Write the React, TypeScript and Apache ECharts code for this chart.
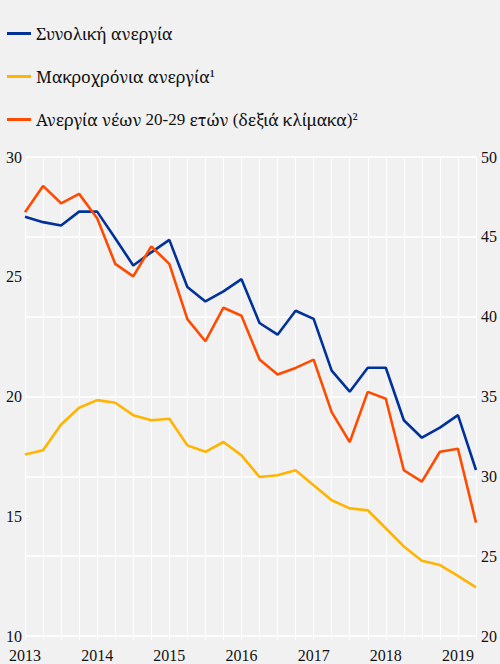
import React, { useEffect, useRef } from "react";
import * as echarts from "echarts";

const categories: string[] = [];
for (let y = 2013; y <= 2019; y++) {
  for (let q = 1; q <= 4; q++) {
    if (y === 2019 && q > 2) break;
    categories.push(`${y}Q${q}`);
  }
}

const totalUnemployment = [
  27.51, 27.28, 27.14, 27.72, 27.72, 26.61, 25.47, 26.02, 26.54, 24.57, 23.97, 24.39, 24.9,
  23.07, 22.58, 23.58, 23.24, 21.08, 20.2, 21.2, 21.2, 19.01, 18.28, 18.7, 19.22, 16.93,
];
const longTermUnemployment = [
  17.58, 17.76, 18.83, 19.53, 19.85, 19.74, 19.22, 19.01, 19.07, 17.96, 17.69, 18.1, 17.54,
  16.64, 16.71, 16.92, 16.29, 15.67, 15.33, 15.25, 14.5, 13.74, 13.14, 12.96, 12.51, 12.03,
];
const youthUnemployment = [
  46.54, 48.19, 47.1, 47.69, 46.17, 43.31, 42.52, 44.4, 43.31, 39.85, 38.46, 40.56, 40.06,
  37.31, 36.38, 36.79, 37.31, 34.02, 32.14, 35.29, 34.86, 30.38, 29.67, 31.54, 31.73, 27.1,
];

const seriesNames = [
  "Συνολική ανεργία",
  "Μακροχρόνια ανεργία¹",
  "Ανεργία νέων 20-29 ετών (δεξιά κλίμακα)²",
];
const colors = ["#003299", "#ffb400", "#ff4b00"];

const FONT = "'Liberation Serif', serif";
const GREEK_FONT = "'Noto Serif', serif";

// split legend text into Greek runs (Noto Serif) and other runs (Liberation Serif)
function richName(name: string): string {
  const parts = name.match(/[\u0370-\u03FF\u1F00-\u1FFF]+|[^\u0370-\u03FF\u1F00-\u1FFF]+/g) || [];
  return parts
    .map((p) => (/[\u0370-\u03FF\u1F00-\u1FFF]/.test(p) ? `{g|${p}}` : `{l|${p}}`))
    .join("");
}

export default function App() {
  const ref = useRef<HTMLDivElement>(null);
  useEffect(() => {
    document.body.style.margin = "0";
    const chart = echarts.init(ref.current!, null, { renderer: "svg" });
    chart.setOption({
      animation: false,
      backgroundColor: "#f1f1f1",
      textStyle: { fontFamily: FONT },
      legend: {
        orient: "vertical",
        left: 2,
        top: 20,
        itemWidth: 24,
        itemHeight: 3,
        itemGap: 26,
        icon: "rect",
        data: seriesNames,
        formatter: (n: string) => richName(n),
        textStyle: {
          fontFamily: FONT,
          fontSize: 17,
          color: "#111",
          rich: {
            g: { fontFamily: GREEK_FONT, fontSize: 16.9, color: "#111" },
            l: { fontFamily: FONT, fontSize: 17, color: "#111" },
          },
        },
      },
      grid: { left: 25, right: 21, top: 157, bottom: 28, containLabel: false },
      xAxis: {
        type: "category",
        data: categories,
        boundaryGap: false,
        axisLine: { show: false },
        axisTick: {
          show: true,
          interval: 0,
          length: 4,
          lineStyle: { color: "#ffffff", width: 1 },
        },
        splitLine: { show: true, interval: 0, lineStyle: { color: "#ffffff", width: 1 } },
        axisLabel: {
          interval: 3,
          margin: 11,
          fontFamily: FONT,
          fontSize: 16,
          color: "#111",
          formatter: (v: string) => v.slice(0, 4),
        },
      },
      yAxis: [
        {
          type: "value",
          min: 10,
          max: 30,
          interval: 5,
          position: "left",
          axisLine: { show: false },
          axisTick: { show: true, inside: true, length: 4, lineStyle: { color: "#ffffff" } },
          splitLine: { show: false },
          axisLabel: { margin: 3, fontFamily: FONT, fontSize: 16, color: "#111" },
        },
        {
          type: "value",
          min: 20,
          max: 50,
          interval: 5,
          position: "right",
          axisLine: { show: false },
          axisTick: { show: false },
          splitLine: { show: true, lineStyle: { color: "#ffffff", width: 1.5 } },
          axisLabel: { margin: 5, fontFamily: FONT, fontSize: 16, color: "#111" },
        },
      ],
      series: [
        {
          name: seriesNames[0],
          type: "line",
          yAxisIndex: 0,
          data: totalUnemployment,
          showSymbol: false,
          lineStyle: { color: colors[0], width: 2.6 },
          itemStyle: { color: colors[0] },
        },
        {
          name: seriesNames[1],
          type: "line",
          yAxisIndex: 0,
          data: longTermUnemployment,
          showSymbol: false,
          lineStyle: { color: colors[1], width: 2.6 },
          itemStyle: { color: colors[1] },
        },
        {
          name: seriesNames[2],
          type: "line",
          yAxisIndex: 1,
          data: youthUnemployment,
          showSymbol: false,
          lineStyle: { color: colors[2], width: 2.6 },
          itemStyle: { color: colors[2] },
        },
      ],
    });
    return () => chart.dispose();
  }, []);
  return <div ref={ref} style={{ width: 500, height: 664 }} />;
}
